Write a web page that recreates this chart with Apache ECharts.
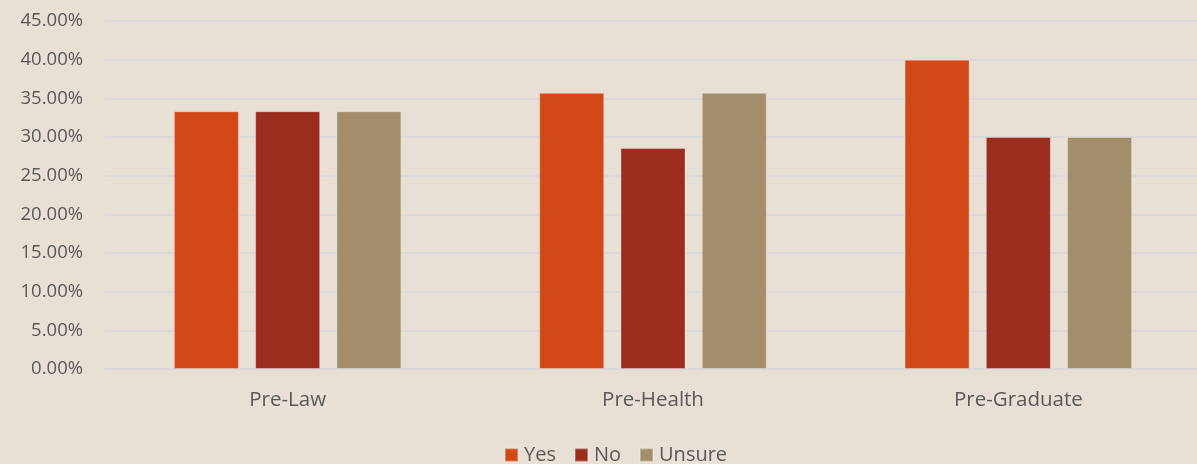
<!DOCTYPE html>
<html><head><meta charset="utf-8">
<script src="https://cdn.jsdelivr.net/npm/echarts@6/dist/echarts.min.js"></script>
<style>html,body{margin:0;padding:0;background:#E8DFD5;overflow:hidden;}#c{width:1201px;height:464px;}</style>
</head><body><div id="c"></div>
<script>
const categories = ['Pre-Law', 'Pre-Health', 'Pre-Graduate'];
const yesValues = [33.33, 35.71, 40.00];
const noValues = [33.33, 28.57, 30.00];
const unsureValues = [33.33, 35.71, 30.00];
const seriesNames = ['Yes', 'No', 'Unsure'];
const colors = ['#D34817', '#9B2D1F', '#A28E6A'];
const font = '"Open Sans", "Noto Sans", sans-serif';
const chart = echarts.init(document.getElementById('c'));
const data = [yesValues, noValues, unsureValues];
chart.setOption({
  backgroundColor: '#E8DFD5',
  animation: false,
  textStyle: { fontFamily: font },
  grid: { left: 105, right: 0, top: 21, height: 348, containLabel: false },
  legend: {
    top: 440, left: 499, itemWidth: 13, itemHeight: 13, itemGap: 18,
    icon: 'rect',
    textStyle: { color: '#595959', fontSize: 20, fontFamily: font, padding: [0, 0, 0, 1] },
    data: seriesNames
  },
  xAxis: {
    type: 'category', data: categories,
    axisLine: { lineStyle: { color: '#D9D9D9', width: 1.5 } },
    axisTick: { show: false },
    axisLabel: { color: '#595959', fontSize: 20.5, margin: 21, fontFamily: font }
  },
  yAxis: {
    type: 'value', min: 0, max: 45, interval: 5,
    axisLine: { show: false }, axisTick: { show: false },
    splitLine: { lineStyle: { color: '#D9D9D9', width: 1.5 } },
    axisLabel: { color: '#595959', fontSize: 18.5, margin: 22, fontFamily: font,
      formatter: v => v.toFixed(2) + '%' }
  },
  series: seriesNames.map((n, i) => ({
    name: n, type: 'bar', data: data[i], barWidth: 65, barGap: '25%',
    itemStyle: { color: colors[i], borderColor: 'rgba(255,255,255,0.3)', borderWidth: 1 }
  }))
});
</script></body></html>
